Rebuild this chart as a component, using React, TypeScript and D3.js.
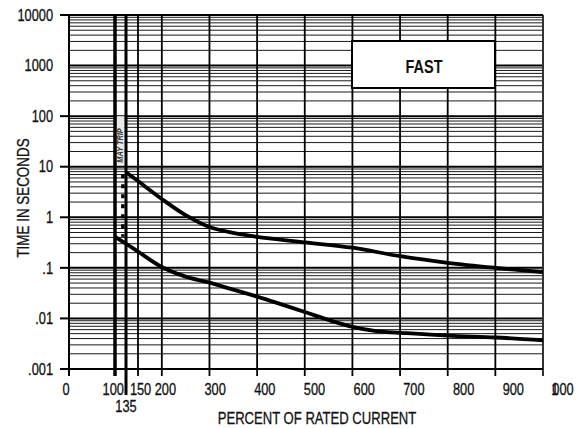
import React from "react";
import * as d3 from "d3";

// ---- data ----
const X_TICKS = [0, 100, 150, 200, 300, 400, 500, 600, 700, 800, 900, 1000];
const X_TICK_LABELS = ["0", "100", "150", "200", "300", "400", "500", "600", "700", "800", "900", "1000"];
const X_SPECIAL_TICK = 135;
const X_SPECIAL_LABEL = "135";
const Y_TICKS = [10000, 1000, 100, 10, 1, 0.1, 0.01, 0.001];
const Y_TICK_LABELS = ["10000", "1000", "100", "10", "1", ".1", ".01", ".001"];
const Y_TICKS_WITH_MARK = [10000, 100, 10, 1, 0.1, 0.01, 0.001];

// maximum clearing curve (percent, seconds)
const UPPER_PCT = [135, 150, 200, 250, 300, 350, 400, 500, 600, 700, 800, 900, 1000];
const UPPER_SEC = [7.8, 5.2, 2.3, 1.1, 0.64, 0.49, 0.41, 0.32, 0.25, 0.17, 0.126, 0.1, 0.082];
// minimum melting curve
const LOWER_PCT = [100, 135, 150, 200, 250, 300, 350, 400, 500, 550, 600, 650, 700, 800, 900, 1000];
const LOWER_SEC = [0.41, 0.3, 0.21, 0.104, 0.067, 0.051, 0.037, 0.027, 0.0134, 0.0093, 0.0068, 0.0056, 0.0052, 0.00456, 0.0042, 0.0037];

const TITLE = "FAST";
const X_TITLE = "PERCENT OF RATED CURRENT";
const Y_TITLE = "TIME IN SECONDS";
const MAY_TRIP = "MAY TRIP";

const FONT = "'Liberation Sans', Arial, Helvetica, sans-serif";

function T(props: {
  x: number;
  y: number;
  size: number;
  sq?: number;
  anchor?: "start" | "middle" | "end";
  rotate?: number;
  weight?: string;
  italic?: boolean;
  fill?: string;
  children: React.ReactNode;
}) {
  const { x, y, size, sq = 0.8, anchor = "middle", rotate = 0, weight = "normal", italic = false, fill = "#111" } = props;
  return (
    <text
      transform={`translate(${x},${y}) rotate(${rotate}) scale(${sq},1)`}
      textAnchor={anchor}
      fontSize={size}
      fontWeight={weight}
      fontStyle={italic ? "italic" : "normal"}
      fill={fill}
      stroke={weight === "normal" ? fill : "none"}
      strokeWidth={weight === "normal" ? 0.3 : 0}
      fontFamily={FONT}
    >
      {props.children}
    </text>
  );
}

export default function App() {
  const W = 582, H = 428;
  const x = d3.scaleLinear().domain([0, 100, 135, 150, 1000]).range([69, 115, 126, 138, 543]);
  const xl = d3.scaleLinear().domain([0, 1000]).range([66, 563]);
  const y = d3.scaleLog().domain([0.001, 10000]).range([369, 15]);
  const top = y(10000), bottom = y(0.001);
  const left = x(0), right = x(1000);

  const minors: number[] = [];
  for (let e = -3; e < 4; e++) {
    for (let k = 2; k <= 9; k++) minors.push(k * Math.pow(10, e));
  }

  const line = d3
    .line<[number, number]>()
    .x((d) => x(d[0]))
    .y((d) => y(d[1]))
    .curve(d3.curveCatmullRom.alpha(0.5));
  const upper = line(UPPER_PCT.map((p, i) => [p, UPPER_SEC[i]] as [number, number])) || "";
  const lower = line(LOWER_PCT.map((p, i) => [p, LOWER_SEC[i]] as [number, number])) || "";

  const vWidth = (v: number) => (v === 100 ? 3.5 : v === 1000 || v === 0 ? 2 : 1.8);
  const labelSize = 16;
  const digitW = labelSize * 0.556 * 0.8;

  return (
    <svg width={W} height={H} style={{ position: "absolute", left: 0, top: 0, background: "#fff" }}>
      <rect x={0} y={0} width={W} height={H} fill="#fff" />
      {/* minor horizontal grid */}
      {minors.map((v, i) => (
        <line key={"m" + i} x1={left} x2={right} y1={y(v)} y2={y(v)} stroke="#1a1a1a" strokeWidth={1} />
      ))}
      {/* major horizontal */}
      {Y_TICKS.map((v, i) => (
        <line key={"M" + i} x1={left} x2={right} y1={y(v)} y2={y(v)} stroke="#000" strokeWidth={2} />
      ))}
      {/* may trip strip */}
      <rect x={x(100) + 1.5} y={y(100)} width={x(135) - x(100) - 3} height={y(11) - y(100)} fill="#e9e9e9" />
      <T x={(x(100) + x(135)) / 2 + 2.8} y={145.5} size={9} sq={0.82} rotate={-90} weight="bold" italic fill="#333">
        {MAY_TRIP}
      </T>
      {/* vertical grid */}
      {X_TICKS.map((v, i) => (
        <line key={"v" + i} x1={x(v)} x2={x(v)} y1={top} y2={bottom + 7} stroke={v === 1000 ? "#333" : "#000"} strokeWidth={vWidth(v)} />
      ))}
      <line x1={x(X_SPECIAL_TICK)} x2={x(X_SPECIAL_TICK)} y1={top} y2={bottom + 26} stroke="#000" strokeWidth={3} />
      {/* axes */}
      <line x1={60} x2={right} y1={top} y2={top} stroke="#000" strokeWidth={2} />
      <line x1={60} x2={right} y1={bottom} y2={bottom} stroke="#000" strokeWidth={2} />
      {Y_TICKS_WITH_MARK.map((v, i) => (
        <line key={"yt" + i} x1={60} x2={left} y1={y(v)} y2={y(v)} stroke="#000" strokeWidth={2} />
      ))}
      {/* curves */}
      <path d={upper} fill="none" stroke="#000" strokeWidth={3.8} />
      <path d={lower} fill="none" stroke="#000" strokeWidth={3.8} />
      <line
        x1={x(125)}
        x2={x(125)}
        y1={y(UPPER_SEC[0]) + 2}
        y2={y(LOWER_SEC[0])}
        stroke="#000"
        strokeWidth={3.5}
        strokeDasharray="4 6"
      />
      {/* FAST box */}
      <rect x={352} y={41} width={143} height={47} fill="#fff" stroke="#000" strokeWidth={2} />
      <T x={424} y={72.7} size={17.7} sq={0.82} weight="bold">
        {TITLE}
      </T>
      {/* y labels */}
      {Y_TICKS.map((v, i) => (
        <T key={"yl" + i} x={53} y={y(v) + 5.7} size={labelSize} anchor="end">
          {Y_TICK_LABELS[i]}
        </T>
      ))}
      {/* x labels */}
      {X_TICKS.map((v, i) => {
        const lab = X_TICK_LABELS[i];
        if (lab.length === 4) {
          const cx = xl(v);
          const start = cx - 1.5 * digitW;
          return (
            <g key={"xl" + i}>
              <T x={start - 1} y={395} size={labelSize} anchor="start">
                {lab.slice(0, 1)}
              </T>
              <T x={cx} y={395} size={labelSize}>
                {lab.slice(1)}
              </T>
            </g>
          );
        }
        return (
          <T key={"xl" + i} x={v === 100 ? xl(v) - 2.5 : xl(v)} y={395} size={labelSize}>
            {lab}
          </T>
        );
      })}
      <T x={x(X_SPECIAL_TICK)} y={412} size={labelSize}>
        {X_SPECIAL_LABEL}
      </T>
      {/* titles */}
      <T x={317} y={424} size={17} sq={0.77}>
        {X_TITLE}
      </T>
      <T x={28.5} y={198} size={17} sq={0.79} rotate={-90}>
        {Y_TITLE}
      </T>
    </svg>
  );
}
